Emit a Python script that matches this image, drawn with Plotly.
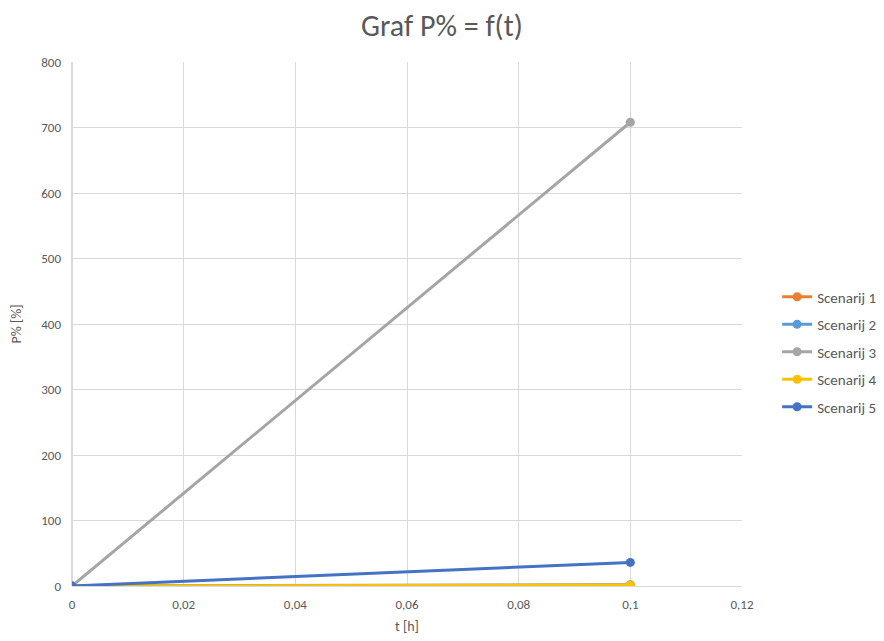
import plotly.graph_objects as go

t_values = [0, 0.1]
series_names = ["Scenarij 1", "Scenarij 2", "Scenarij 3", "Scenarij 4", "Scenarij 5"]
scenarij_1 = [0, 1.0]
scenarij_2 = [0, 2.0]
scenarij_3 = [0, 708]
scenarij_4 = [0, 1.5]
scenarij_5 = [0, 36]
colors = ["#ED7D31", "#5B9BD5", "#A5A5A5", "#FFC000", "#4472C4"]

x_ticks = [0, 0.02, 0.04, 0.06, 0.08, 0.1, 0.12]
y_ticks = [0, 100, 200, 300, 400, 500, 600, 700, 800]

FONT = "Carlito, Calibri, 'Open Sans', Lato, sans-serif"

fig = go.Figure()
for i, (name, vals, col) in enumerate(zip(series_names, [scenarij_1, scenarij_2, scenarij_3, scenarij_4, scenarij_5], colors)):
    fig.add_trace(go.Scatter(
        x=t_values, y=vals, name=name, mode="lines+markers", legendgroup=f"g{i}",
        line=dict(color=col, width=3), marker=dict(color=col, size=9),
    ))

fig.update_layout(
    width=876, height=633,
    paper_bgcolor="white", plot_bgcolor="white",
    separators=", ",
    font=dict(family=FONT, color="#595959", size=13),
    title=dict(text="Graf P% = f(t)", x=0.4954, xanchor="center", y=0.972, yanchor="middle",
               font=dict(size=30, color="#595959", family=FONT)),
    margin=dict(l=64, r=142, t=54, b=55),
    showlegend=True,
    legend=dict(xref="container", yref="container", x=0.878, xanchor="left", y=0.4566, yanchor="middle",
                font=dict(size=15, color="#595959", family=FONT),
                tracegroupgap=5, itemwidth=30, bgcolor="rgba(0,0,0,0)"),
    xaxis=dict(range=[0, 0.12], tickvals=x_ticks, tickformat=".2~f",
               showgrid=True, gridcolor="#D9D9D9", gridwidth=1,
               showline=True, linecolor="#D9D9D9", linewidth=1,
               zeroline=True, zerolinecolor="#D9D9D9",
               ticks="", title=dict(text="t [h]", font=dict(size=14, color="#595959"), standoff=10),
               tickfont=dict(size=13, color="#595959"), fixedrange=True, automargin=False),
    yaxis=dict(range=[0, 800], tickvals=y_ticks,
               showgrid=True, gridcolor="#D9D9D9", gridwidth=1,
               showline=False, zeroline=True, zerolinecolor="#D9D9D9",
               ticks="", title=dict(text="P% [%]", font=dict(size=14, color="#595959"), standoff=18),
               tickfont=dict(size=13, color="#595959"), fixedrange=True, automargin=False),
)
fig.update_xaxes(ticklabelstandoff=6)
fig.update_yaxes(ticklabelstandoff=10)

fig.write_html("out.html")
